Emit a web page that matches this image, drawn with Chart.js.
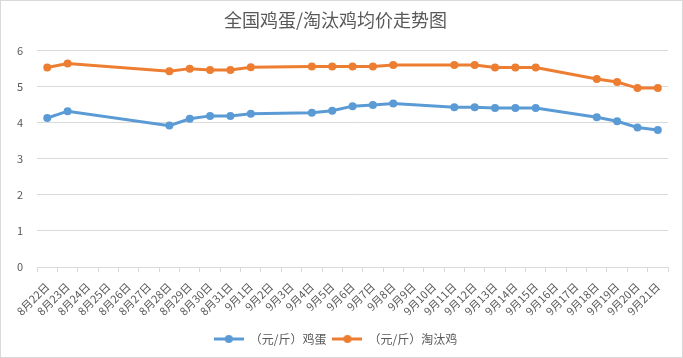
<!DOCTYPE html>
<html>
<head>
<meta charset="utf-8">
<script src="https://cdn.jsdelivr.net/npm/chart.js@4"></script>
<style>
  html, body { margin: 0; padding: 0; background: #fff; }
  #wrap { position: relative; width: 681px; height: 356px; border: 1px solid #d9d9d9; }
</style>
</head>
<body>
<div id="wrap"><canvas id="priceChart"></canvas></div>
<script>
    // Dates on the x axis (8/22 - 9/21)
    const dates = ['8月22日', '8月23日', '8月24日', '8月25日', '8月26日', '8月27日', '8月28日', '8月29日', '8月30日', '8月31日',
        '9月1日', '9月2日', '9月3日', '9月4日', '9月5日', '9月6日', '9月7日', '9月8日', '9月9日', '9月10日',
        '9月11日', '9月12日', '9月13日', '9月14日', '9月15日', '9月16日', '9月17日', '9月18日', '9月19日', '9月20日', '9月21日'];

    // Egg price (yuan/jin), null = no quote that day
    const eggPrices = [4.13, 4.32, null, null, null, null, 3.92, 4.11, 4.19, 4.19,
        4.25, null, null, 4.28, 4.33, 4.46, 4.49, 4.53, null, null,
        4.43, 4.43, 4.41, 4.41, 4.41, null, null, 4.15, 4.04, 3.87, 3.80];

    // Culled hen price (yuan/jin)
    const henPrices = [5.53, 5.64, null, null, null, null, 5.43, 5.50, 5.46, 5.46,
        5.54, null, null, 5.56, 5.56, 5.56, 5.56, 5.60, null, null,
        5.60, 5.60, 5.53, 5.53, 5.53, null, null, 5.21, 5.13, 4.96, 4.96];

    const yTicks = [0, 1, 2, 3, 4, 5, 6];

    const seriesNames = ['（元/斤）鸡蛋', '（元/斤）淘汰鸡'];
    const seriesColors = ['#5B9BD5', '#ED7D31'];
    const textColor = '#595959';
    const fontFamily = '"Noto Sans CJK SC", "Noto Sans", sans-serif';

    // Legend marker: short line with a dot, like the Excel legend
    function legendMarker(color) {
        const c = document.createElement('canvas');
        c.width = 30;
        c.height = 10;
        const g = c.getContext('2d');
        g.strokeStyle = color;
        g.lineWidth = 3;
        g.beginPath();
        g.moveTo(0, 5);
        g.lineTo(30, 5);
        g.stroke();
        g.fillStyle = color;
        g.beginPath();
        g.arc(15, 5, 4, 0, Math.PI * 2);
        g.fill();
        return c;
    }

    function makeDataset(i, values) {
        return {
            label: seriesNames[i],
            data: values,
            borderColor: seriesColors[i],
            backgroundColor: seriesColors[i],
            borderWidth: 3,
            pointRadius: 4,
            pointBorderWidth: 0,
            pointBackgroundColor: seriesColors[i],
            spanGaps: true,
            tension: 0
        };
    }

    const ctx = document.getElementById('priceChart').getContext('2d');
    const priceChart = new Chart(ctx, {
        type: 'line',
        data: {
            labels: dates,
            datasets: [makeDataset(0, eggPrices), makeDataset(1, henPrices)]
        },
        options: {
            responsive: true,
            maintainAspectRatio: false,
            animation: false,
            layout: { padding: { left: 2, right: 14, top: 0, bottom: 2 } },
            plugins: {
                title: {
                    display: true,
                    text: '全国鸡蛋/淘汰鸡均价走势图',
                    color: textColor,
                    font: { family: fontFamily, size: 18, weight: 'normal' },
                    padding: { top: 8, bottom: 20 }
                },
                legend: {
                    position: 'bottom',
                    labels: {
                        color: textColor,
                        font: { family: fontFamily, size: 12 },
                        boxWidth: 30,
                        pointStyleWidth: 30,
                        padding: 6,
                        generateLabels: function(chart) {
                            return chart.data.datasets.map((ds, i) => ({
                                text: ds.label,
                                fontColor: textColor,
                                pointStyle: legendMarker(seriesColors[i]),
                                datasetIndex: i,
                                hidden: false,
                                lineWidth: 0
                            }));
                        },
                        usePointStyle: true
                    }
                },
                tooltip: { enabled: false }
            },
            scales: {
                x: {
                    offset: true,
                    afterFit: function(scale) {
                        scale.height = 60;
                    },
                    grid: {
                        offset: true,
                        drawOnChartArea: false,
                        drawTicks: true,
                        tickLength: 5,
                        color: '#d9d9d9'
                    },
                    border: { color: '#d9d9d9' },
                    ticks: {
                        autoSkip: false,
                        minRotation: 45,
                        maxRotation: 45,
                        padding: 8,
                        color: textColor,
                        font: { family: fontFamily, size: 11 }
                    }
                },
                y: {
                    min: 0,
                    max: 6,
                    afterBuildTicks: function(axis) {
                        axis.ticks = yTicks.map(v => ({ value: v }));
                    },
                    grid: { color: '#d9d9d9', drawTicks: false },
                    border: { display: false },
                    ticks: {
                        padding: 14,
                        color: textColor,
                        font: { family: fontFamily, size: 11 }
                    }
                }
            }
        }
    });
</script>
</body>
</html>
